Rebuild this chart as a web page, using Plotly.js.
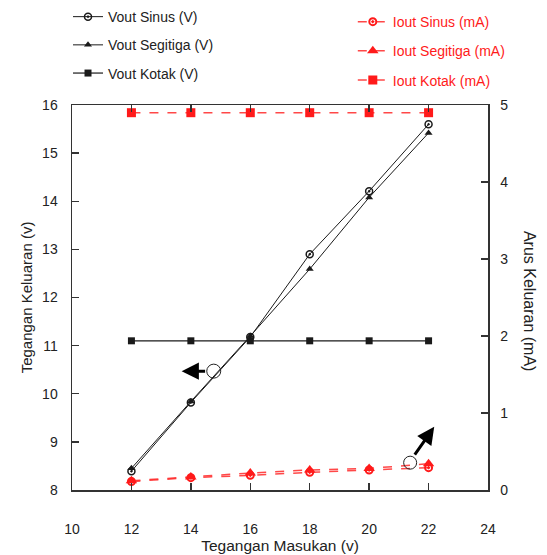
<!DOCTYPE html>
<html>
<head>
<meta charset="utf-8">
<script src="https://cdn.plot.ly/plotly-3.0.1.min.js"></script>
<style>html,body{margin:0;padding:0;background:#fff;}#chart{width:547px;height:555px;}</style>
</head>
<body>
<div id="chart"></div>
<script>
// Data
const vin = [12, 14, 16, 18, 20, 22];
const voutSinus = [8.39, 9.82, 11.18, 12.9, 14.21, 15.6];
const voutSegitiga = [8.45, 9.84, 11.2, 12.59, 14.08, 15.42];
const voutKotak = [11.1, 11.1, 11.1, 11.1, 11.1, 11.1];
const ioutSinus = [0.11, 0.16, 0.19, 0.23, 0.26, 0.29];
const ioutSegitiga = [0.12, 0.17, 0.22, 0.26, 0.28, 0.34];
const ioutKotak = [4.9, 4.9, 4.9, 4.9, 4.9, 4.9];

const namesV = ['Vout Sinus (V)', 'Vout Segitiga (V)', 'Vout Kotak (V)'];
const namesI = ['Iout Sinus (mA)', 'Iout Segitiga (mA)', 'Iout Kotak (mA)'];

const black = '#1a1a1a';
const red = '#ff1a1a';
const redLine = 'rgba(255,40,40,0.85)';

const traces = [
  {x: vin, y: voutSinus, name: namesV[0], mode: 'lines+markers', legend: 'legend', legendgroup: 'a',
   line: {color: black, width: 1}, marker: {symbol: 'circle-open-dot', size: 7, color: black, line: {width: 1.5}}},
  {x: vin, y: voutSegitiga, name: namesV[1], mode: 'lines+markers', legend: 'legend', legendgroup: 'b',
   line: {color: black, width: 1}, marker: {symbol: 'triangle-up', size: 7, color: black}},
  {x: vin, y: voutKotak, name: namesV[2], mode: 'lines+markers', legend: 'legend', legendgroup: 'c',
   line: {color: black, width: 1.2}, marker: {symbol: 'square', size: 7, color: black}},
  {x: vin, y: ioutSinus, name: namesI[0], mode: 'lines+markers', yaxis: 'y2', legend: 'legend2', legendgroup: 'd',
   line: {color: redLine, width: 1.5, dash: 'dash'}, marker: {symbol: 'circle-open-dot', size: 7, color: red, line: {width: 2}}},
  {x: vin, y: ioutSegitiga, name: namesI[1], mode: 'lines+markers', yaxis: 'y2', legend: 'legend2', legendgroup: 'e',
   line: {color: redLine, width: 1.5, dash: 'dash'}, marker: {symbol: 'triangle-up', size: 10, color: red}},
  {x: vin, y: ioutKotak, name: namesI[2], mode: 'lines+markers', yaxis: 'y2', legend: 'legend2', legendgroup: 'f',
   line: {color: redLine, width: 1.5, dash: 'dash'}, marker: {symbol: 'square', size: 9, color: red}}
];

const axisCommon = {
  showgrid: false, zeroline: false, showline: true, linecolor: '#333', linewidth: 1.5,
  ticks: 'inside', ticklen: 7, tickwidth: 1.3, tickcolor: '#333',
  tickfont: {family: 'Liberation Sans, Arial, sans-serif', size: 14, color: '#222'}
};

const layout = {
  width: 547, height: 555,
  margin: {l: 72, r: 59, t: 105, b: 65, autoexpand: false},
  paper_bgcolor: '#fff', plot_bgcolor: '#fff',
  font: {family: 'Liberation Sans, Arial, sans-serif', color: '#222'},
  xaxis: Object.assign({}, axisCommon, {
    range: [10, 24], dtick: 2, tick0: 10, mirror: 'ticks', ticklabelstandoff: 26,
    title: {text: 'Tegangan Masukan (v)', font: {size: 15.5, color: '#222'}, standoff: 3}
  }),
  yaxis: Object.assign({}, axisCommon, {
    range: [8, 16], dtick: 1, ticklabelstandoff: 10,
    title: {text: 'Tegangan Keluaran (v)', font: {size: 15, color: '#222'}, standoff: 6}
  }),
  yaxis2: Object.assign({}, axisCommon, {
    range: [0, 5], dtick: 1, overlaying: 'y', side: 'right', ticklabelstandoff: 8
  }),
  showlegend: true,
  legend: {x: -0.0096, y: 1.27, xanchor: 'left', yanchor: 'top', traceorder: 'grouped', tracegroupgap: 7,
    bgcolor: 'rgba(0,0,0,0)', font: {size: 14, color: '#222'}},
  legend2: {x: 0.675, y: 1.257, xanchor: 'left', yanchor: 'top', traceorder: 'grouped', tracegroupgap: 8,
    bgcolor: 'rgba(0,0,0,0)', font: {size: 14, color: red}},
  shapes: [
    {type: 'circle', xref: 'x', yref: 'y', xsizemode: 'pixel', ysizemode: 'pixel',
     xanchor: 14.77, yanchor: 10.47, x0: -7, x1: 7, y0: -7, y1: 7, line: {color: '#222', width: 1}},
    {type: 'circle', xref: 'x', yref: 'y2', xsizemode: 'pixel', ysizemode: 'pixel',
     xanchor: 21.38, yanchor: 0.355, x0: -6.5, x1: 6.5, y0: -6.5, y1: 6.5, line: {color: '#222', width: 1}}
  ],
  annotations: [
    {xref: 'x', yref: 'y', x: 13.69, y: 10.47, axref: 'x', ayref: 'y', ax: 14.53, ay: 10.47,
     text: '', showarrow: true, arrowhead: 2, arrowsize: 1.15, arrowwidth: 3, arrowcolor: '#000'},
    {xref: 'x', yref: 'y2', x: 22.19, y: 0.82, axref: 'x', ayref: 'y2', ax: 21.5, ay: 0.44,
     text: '', showarrow: true, arrowhead: 2, arrowsize: 1.15, arrowwidth: 3, arrowcolor: '#000'},
    {xref: 'paper', yref: 'paper', x: 1.0986, y: 0.491, xanchor: 'center', yanchor: 'middle',
     text: 'Arus Keluaran (mA)', textangle: 90, showarrow: false, font: {size: 16, color: '#222'}}
  ]
};

Plotly.newPlot('chart', traces, layout, {displayModeBar: false, staticPlot: true});
</script>
</body>
</html>
